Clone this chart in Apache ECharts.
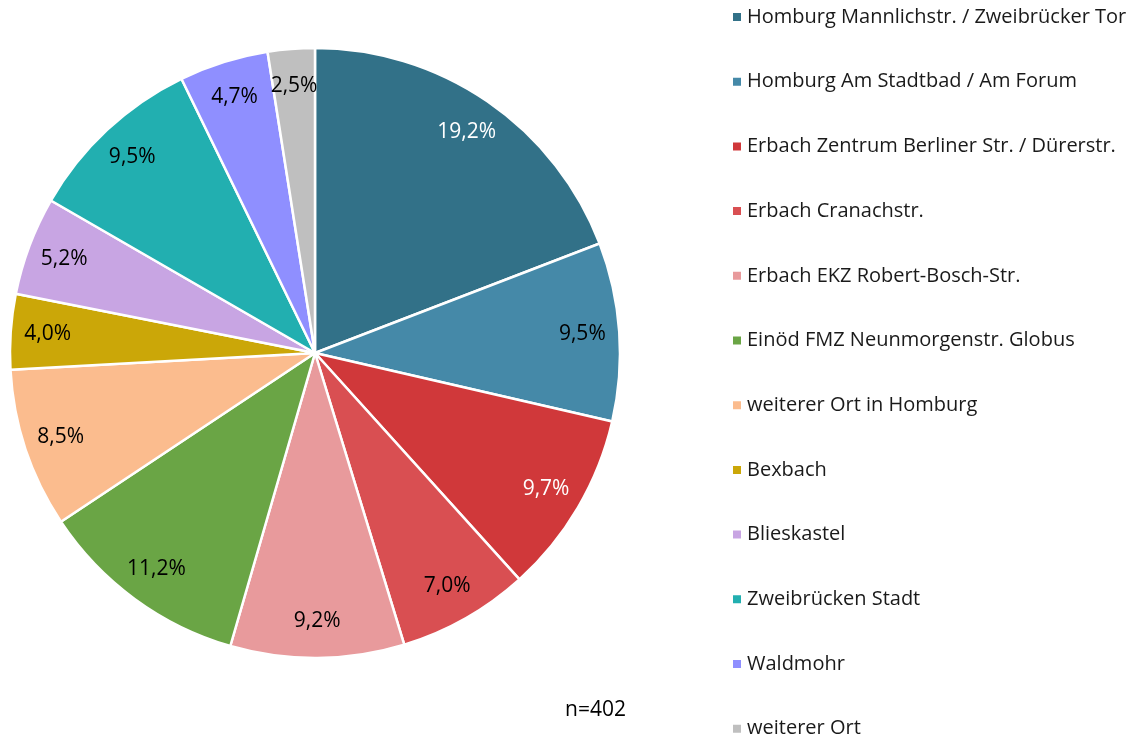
<!DOCTYPE html>
<html>
<head>
<meta charset="utf-8">
<script src="https://cdn.jsdelivr.net/npm/echarts@6/dist/echarts.min.js"></script>
<style>
  html, body { margin: 0; padding: 0; background: #fff; }
  #chart { width: 1136px; height: 742px; }
</style>
</head>
<body>
<div id="chart"></div>
<script>
const categories = [
  "Homburg Mannlichstr. / Zweibrücker Tor",
  "Homburg Am Stadtbad / Am Forum",
  "Erbach Zentrum Berliner Str. / Dürerstr.",
  "Erbach Cranachstr.",
  "Erbach EKZ Robert-Bosch-Str.",
  "Einöd FMZ Neunmorgenstr. Globus",
  "weiterer Ort in Homburg",
  "Bexbach",
  "Blieskastel",
  "Zweibrücken Stadt",
  "Waldmohr",
  "weiterer Ort"
];
// counts out of n=402 (matching the printed percentages)
const counts = [77, 38, 39, 28, 37, 45, 34, 16, 21, 38, 19, 10];
const total = 402;
const colors = [
  "#327188", "#4589A8", "#D0383A", "#D94F52", "#E89A9C", "#6AA545",
  "#FBBC8E", "#CBA708", "#C8A5E3", "#22AFB0", "#8F8FFF", "#BFBFBF"
];
const whiteLabels = [0, 2];

const chart = echarts.init(document.getElementById("chart"));

const pieData = categories.map((name, i) => ({
  name,
  value: counts[i],
  itemStyle: { color: colors[i] }
}));

const fmt = (p) => (p.value / total * 100).toFixed(1).replace(".", ",") + "%";

const option = {
  animation: false,
  title: {
    text: "n=" + total,
    left: 565,
    top: 700,
    padding: 0,
    textStyle: { fontFamily: "Open Sans", fontSize: 21, fontWeight: "normal", color: "#000" }
  },
  legend: {
    orient: "vertical",
    left: 731,
    top: 5,
    height: 800,
    padding: 0,
    icon: "rect",
    itemWidth: 10,
    itemHeight: 10,
    itemGap: 40.7,
    selectedMode: false,
    data: categories,
    textStyle: {
      fontFamily: "Open Sans",
      fontSize: 20,
      lineHeight: 24,
      color: "#1a1a1a"
    }
  },
  series: [
    {
      type: "pie",
      center: [315, 353],
      radius: 305,
      startAngle: 90,
      clockwise: true,
      silent: true,
      itemStyle: { borderColor: "#fff", borderWidth: 2.5 },
      label: { show: false },
      labelLine: { show: false },
      data: pieData
    },
    {
      // transparent overlay used only to put the labels near the rim
      type: "pie",
      center: [315, 353],
      radius: [225, 305],
      startAngle: 90,
      clockwise: true,
      silent: true,
      legendHoverLink: false,
      itemStyle: { color: "transparent", borderWidth: 0 },
      label: {
        show: true,
        position: "inside",
        formatter: fmt,
        fontFamily: "Open Sans",
        fontSize: 21,
        color: "#000"
      },
      labelLine: { show: false },
      data: categories.map((name, i) => ({
        name: name + " ",
        value: counts[i],
        label: { color: whiteLabels.includes(i) ? "#fff" : "#000" }
      }))
    }
  ]
};

chart.setOption(option);
</script>
</body>
</html>
